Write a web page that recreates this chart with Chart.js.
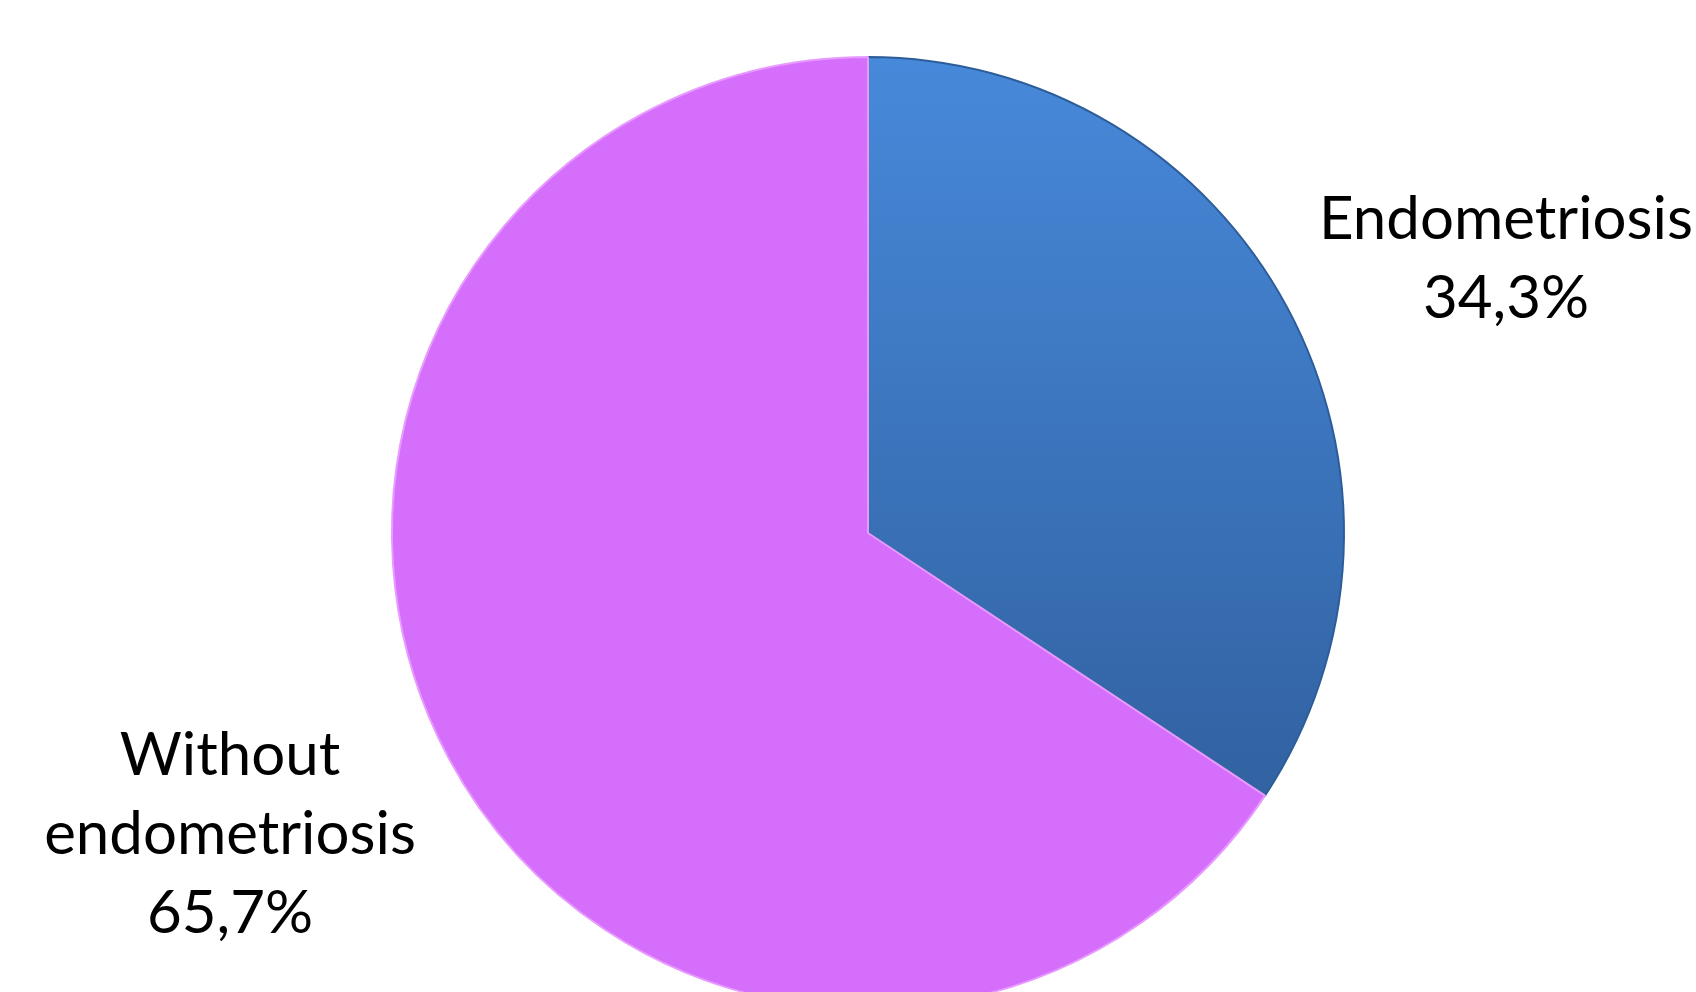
<!DOCTYPE html>
<html>
<head>
<meta charset="utf-8">
<script src="https://cdn.jsdelivr.net/npm/chart.js@4.4.1/dist/chart.umd.min.js"></script>
<style>
  html, body { margin: 0; padding: 0; background: #fff; overflow: hidden; }
  #wrap { width: 1696px; height: 1100px; position: relative; }
</style>
</head>
<body>
<div id="wrap"><canvas id="pie-chart"></canvas></div>
<script>
var categories = ["Endometriosis", "Without endometriosis"];
var labelLines = [["Endometriosis"], ["Without", "endometriosis"]];
var percents = [34.3, 65.7];
var sliceColors = ['#d66efc'];

// draws the category + value text outside each slice
var outsideLabels = {
  id: 'outsideLabels',
  afterDatasetsDraw: function(chart) {
    var ctx = chart.ctx;
    var meta = chart.getDatasetMeta(0);
    ctx.save();
    ctx.fillStyle = '#000';
    ctx.font = '60px Lato';
    ctx.textAlign = 'center';
    ctx.textBaseline = 'middle';
    meta.data.forEach(function(arc, i) {
      var mid = (arc.startAngle + arc.endAngle) / 2 + 0.07;
      var r = arc.outerRadius * 1.47;
      var x = arc.x + Math.cos(mid) * r;
      var y = arc.y + Math.sin(mid) * r + 14;
      var lines = labelLines[i].concat([percents[i].toFixed(1).replace('.', ',') + '%']);
      var lh = 79;
      var top = y - (lines.length - 1) * lh / 2;
      lines.forEach(function(t, j) {
        ctx.fillText(t, x, top + j * lh);
      });
    });
    ctx.restore();
  }
};

var ctx = document.getElementById("pie-chart").getContext('2d');
var myChart = new Chart(ctx, {
    type: 'pie',
    data: {
      labels: categories,
      datasets: [{
          data: percents,
          backgroundColor: function(c) {
            if (c.dataIndex === 1) return sliceColors[0];
            var area = c.chart.chartArea;
            if (!area) return '#4285d6';
            var g = c.chart.ctx.createLinearGradient(0, area.top, 0, area.bottom);
            g.addColorStop(0, '#4789da');
            g.addColorStop(0.75, '#3263a3');
            g.addColorStop(1, '#2f5c98');
            return g;
          },
          borderColor: ['#2d5d99', '#e89bff'],
          borderWidth: 2
      }]
    },
    options: {
      responsive: true,
      maintainAspectRatio: false,
      animation: false,
      layout: {
        padding: { top: 56, bottom: 90, left: 391, right: 351 }
      },
      plugins: {
        legend: { display: false },
        tooltip: { enabled: false }
      }
    },
    plugins: [outsideLabels]
});
</script>
</body>
</html>
